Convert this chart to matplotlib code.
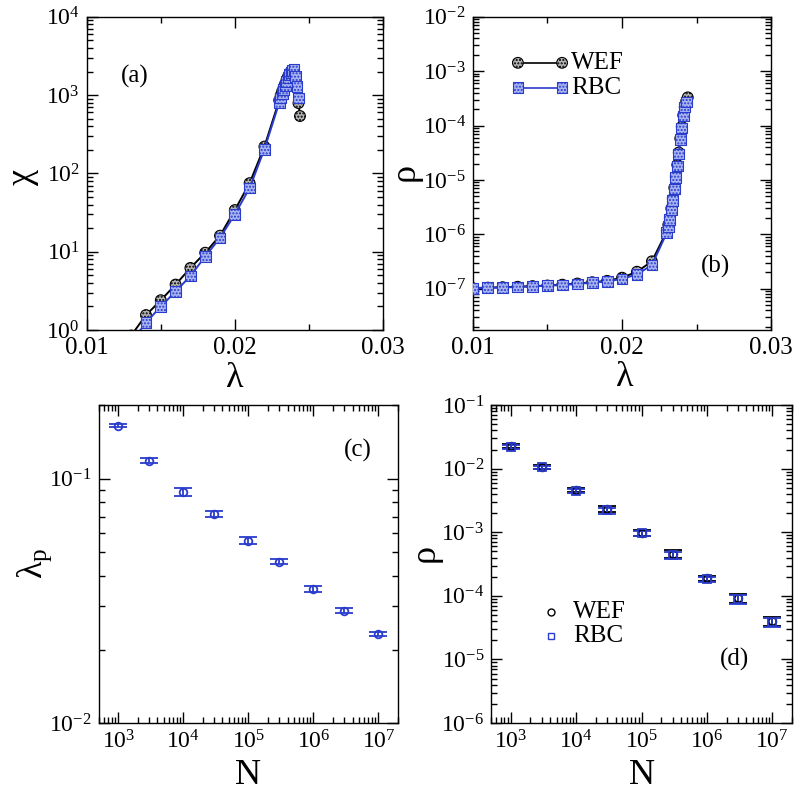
import matplotlib
matplotlib.use("Agg")
import matplotlib.pyplot as plt
from matplotlib.ticker import MultipleLocator, FormatStrFormatter, LogLocator
import numpy as np

plt.rcParams['font.family'] = ['Liberation Serif', 'DejaVu Serif']
plt.rcParams['mathtext.fontset'] = 'custom'
plt.rcParams['mathtext.rm'] = 'Liberation Serif'
plt.rcParams['mathtext.it'] = 'Liberation Serif:italic'
plt.rcParams['mathtext.bf'] = 'Liberation Serif:bold'
plt.rcParams['axes.unicode_minus'] = False

# ---------------- data ----------------
lam_wef = [0.010, 0.011, 0.012, 0.013, 0.014, 0.015, 0.016, 0.017, 0.018, 0.019, 0.020, 0.021, 0.022,
           0.0230, 0.0231, 0.0232, 0.0233, 0.0234, 0.0235, 0.0236, 0.0237, 0.0238, 0.0239,
           0.0240, 0.0241, 0.0242, 0.0243, 0.0244]
lam_rbc = [0.010, 0.011, 0.012, 0.013, 0.014, 0.015, 0.016, 0.017, 0.018, 0.019, 0.020, 0.021, 0.022,
           0.0230, 0.0231, 0.0232, 0.0233, 0.0234, 0.0235, 0.0236, 0.0237, 0.0238, 0.0239,
           0.0240, 0.0241, 0.0242, 0.0243]

chi_wef = [0.14, 0.25, 0.45, 0.85, 1.55, 2.4, 3.8, 6.2, 9.7, 16, 34, 75, 220,
           860, 990, 1120, 1250, 1400, 1570, 1740, 1900, 2020, 2080,
           2000, 1700, 1300, 790, 540]
chi_rbc = [0.10, 0.19, 0.36, 0.70, 1.24, 2.0, 3.1, 4.9, 8.7, 15, 30, 65, 204,
           800, 920, 1050, 1170, 1320, 1490, 1650, 1820, 1950, 2080,
           2100, 1730, 1300, 920]

rho_wef = [1.03e-7, 1.05e-7, 1.07e-7, 1.09e-7, 1.12e-7, 1.15e-7, 1.19e-7, 1.25e-7, 1.32e-7, 1.40e-7,
           1.60e-7, 2.06e-7, 3.2e-7,
           1.15e-6, 1.5e-6, 2.0e-6, 3.0e-6, 4.5e-6, 7.2e-6, 1.15e-5, 1.9e-5, 3.2e-5, 5.8e-5,
           9.5e-5, 1.55e-4, 2.2e-4, 2.8e-4, 3.3e-4]
rho_rbc = [1.02e-7, 1.04e-7, 1.06e-7, 1.08e-7, 1.11e-7, 1.14e-7, 1.18e-7, 1.23e-7, 1.30e-7, 1.37e-7,
           1.52e-7, 1.84e-7, 2.73e-7,
           1.08e-6, 1.4e-6, 1.9e-6, 2.8e-6, 4.2e-6, 6.8e-6, 1.1e-5, 1.8e-5, 3.0e-5, 5.5e-5,
           9.0e-5, 1.5e-4, 2.2e-4, 2.7e-4]

N_sizes = [1e3, 3e3, 1e4, 3e4, 1e5, 3e5, 1e6, 3e6, 1e7]
lam_p = [0.165, 0.1185, 0.088, 0.072, 0.0558, 0.0457, 0.0354, 0.0288, 0.0231]
lam_p_err = [0.003, 0.0028, 0.0033, 0.002, 0.0018, 0.0011, 0.001, 0.0007, 0.00045]

rhoN_wef = [0.0228, 0.0107, 0.00460, 0.00230, 0.00099, 0.000455, 0.000188, 9.2e-5, 4.0e-5]
rhoN_wef_err = [0.0016, 0.0007, 0.00037, 0.00025, 0.0001, 6.5e-5, 1.7e-5, 1.6e-5, 6e-6]
rhoN_rbc = [0.0222, 0.0105, 0.00450, 0.00221, 0.00096, 0.000435, 0.000183, 9.0e-5, 3.9e-5]
rhoN_rbc_err = [0.0015, 0.0007, 0.00035, 0.00024, 0.0001, 6e-5, 1.6e-5, 1.5e-5, 6e-6]

BLUE = '#2a3ccc'
GREY = '#b4b4b4'
LBLUE = '#a9b5f2'

fig = plt.figure(figsize=(7.96, 7.99), dpi=100)

def frame(ax, xsize=17, ysize=17):
    ax.tick_params(which='both', direction='in', top=True, right=True, width=1.0)
    ax.tick_params(which='major', length=8, pad=5)
    ax.tick_params(axis='x', which='major', labelsize=xsize)
    ax.tick_params(axis='y', which='major', labelsize=ysize)
    ax.tick_params(which='minor', length=4.5)
    for s in ax.spines.values():
        s.set_linewidth(1.0)

def set_labels(ax, xl, yl, xpos, ypos, size=26):
    ax.set_xlabel(xl, fontsize=size)
    ax.set_ylabel(yl, fontsize=size)
    ax.xaxis.set_label_coords(*xpos)
    ax.yaxis.set_label_coords(*ypos)
    ax.xaxis.label.set_va('center')
    ax.yaxis.label.set_va('center')

def curve(ax, x, y, kind, z):
    if kind == 'wef':
        ax.plot(x, y, color='black', lw=1.4, zorder=z)
        sc = ax.scatter(x, y, s=60, marker='o', facecolor=GREY, edgecolor='black',
                        linewidths=0.8, hatch='.....', zorder=z + 0.5)
    else:
        ax.plot(x, y, color=BLUE, lw=1.4, zorder=z)
        sc = ax.scatter(x, y, s=60, marker='s', facecolor=LBLUE, edgecolor=BLUE,
                        linewidths=0.8, hatch='.....', zorder=z + 0.5)
    return sc

# ---------------- (a) ----------------
ax = fig.add_axes([0.109, 0.587, 0.372, 0.392])
curve(ax, lam_wef, chi_wef, 'wef', 2)
curve(ax, lam_rbc, chi_rbc, 'rbc', 3)
ax.set_yscale('log')
ax.set_xlim(0.01, 0.03)
ax.set_ylim(1, 1e4)
ax.xaxis.set_major_locator(MultipleLocator(0.01))
ax.xaxis.set_minor_locator(MultipleLocator(0.005))
ax.xaxis.set_major_formatter(FormatStrFormatter('%.2f'))
ax.yaxis.set_minor_locator(LogLocator(base=10, subs=np.arange(2, 10)))
frame(ax, xsize=18)
set_labels(ax, 'λ', 'χ', (0.5, -0.155), (-0.216, 0.49))
ax.text(0.162, 0.81, '(a)', transform=ax.transAxes, fontsize=18, ha='center', va='center')

# ---------------- (b) ----------------
ax = fig.add_axes([0.594, 0.587, 0.375, 0.392])
curve(ax, lam_wef, rho_wef, 'wef', 2)
curve(ax, lam_rbc, rho_rbc, 'rbc', 3)
ax.set_yscale('log')
ax.set_xlim(0.01, 0.03)
ax.set_ylim(1.75e-8, 1e-2)
ax.xaxis.set_major_locator(MultipleLocator(0.01))
ax.xaxis.set_minor_locator(MultipleLocator(0.005))
ax.xaxis.set_major_formatter(FormatStrFormatter('%.2f'))
ax.yaxis.set_minor_locator(LogLocator(base=10, subs=np.arange(2, 10)))
frame(ax, xsize=18)
set_labels(ax, 'λ', 'ρ', (0.51, -0.152), (-0.228, 0.505))
ax.text(0.812, 0.204, '(b)', transform=ax.transAxes, fontsize=18, ha='center', va='center')
# legend
for yy, kind in [(0.853, 'wef'), (0.773, 'rbc')]:
    col = 'black' if kind == 'wef' else BLUE
    ax.plot([0.151, 0.299], [yy, yy], transform=ax.transAxes, color=col, lw=1.2, zorder=5)
    ax.scatter([0.151, 0.299], [yy, yy], transform=ax.transAxes, s=60,
               marker='o' if kind == 'wef' else 's',
               facecolor=GREY if kind == 'wef' else LBLUE,
               edgecolor=col, linewidths=0.8, hatch='.....', zorder=6)
    ax.text(0.33, yy, 'WEF' if kind == 'wef' else 'RBC', transform=ax.transAxes,
            fontsize=18, va='center', ha='left')

# ---------------- (c) ----------------
ax = fig.add_axes([0.124, 0.095, 0.376, 0.398])
ax.errorbar(N_sizes, lam_p, yerr=lam_p_err, fmt='o', ms=5.5, mfc='none', mec=BLUE, mew=1.3,
            color=BLUE, ecolor=BLUE, elinewidth=1.3, capsize=6.5, capthick=1.8)
ax.set_xscale('log')
ax.set_yscale('log')
ax.set_xlim(500, 2e7)
ax.set_ylim(0.01, 0.2)
ax.xaxis.set_major_locator(LogLocator(base=10, numticks=20))
ax.xaxis.set_minor_locator(LogLocator(base=10, subs=np.arange(2, 10), numticks=20))
frame(ax)
set_labels(ax, 'N', r'λ$_{\rm p}$', (0.50, -0.164), (-0.214, 0.503))
ax.text(0.865, 0.858, '(c)', transform=ax.transAxes, fontsize=18, ha='center', va='center')

# ---------------- (d) ----------------
ax = fig.add_axes([0.617, 0.095, 0.378, 0.398])
ax.errorbar(N_sizes, rhoN_wef, yerr=rhoN_wef_err, fmt='o', ms=5.5, mfc='none', mec='black', mew=1.3,
            ecolor='black', elinewidth=1.3, capsize=6.5, capthick=1.8, label='WEF')
ax.errorbar(N_sizes, rhoN_rbc, yerr=rhoN_rbc_err, fmt='s', ms=5.5, mfc='none', mec=BLUE, mew=1.3,
            ecolor=BLUE, elinewidth=1.3, capsize=6.5, capthick=1.8, label='RBC')
ax.set_xscale('log')
ax.set_yscale('log')
ax.set_xlim(500, 2e7)
ax.set_ylim(1e-6, 1e-1)
ax.xaxis.set_major_locator(LogLocator(base=10, numticks=20))
ax.xaxis.set_minor_locator(LogLocator(base=10, subs=np.arange(2, 10), numticks=20))
ax.yaxis.set_minor_locator(LogLocator(base=10, subs=np.arange(2, 10), numticks=20))
frame(ax)
set_labels(ax, 'N', 'ρ', (0.50, -0.164), (-0.219, 0.535))
ax.text(0.81, 0.20, '(d)', transform=ax.transAxes, fontsize=18, ha='center', va='center')
# legend (markers only)
ax.plot([0.199], [0.349], transform=ax.transAxes, marker='o', ms=5, mfc='none', mec='black', mew=1.0)
ax.plot([0.199], [0.274], transform=ax.transAxes, marker='s', ms=5, mfc='none', mec=BLUE, mew=1.0)
ax.text(0.272, 0.349, 'WEF', transform=ax.transAxes, fontsize=18, va='center', ha='left')
ax.text(0.272, 0.274, 'RBC', transform=ax.transAxes, fontsize=18, va='center', ha='left')

fig.savefig('out.png', dpi=100)
